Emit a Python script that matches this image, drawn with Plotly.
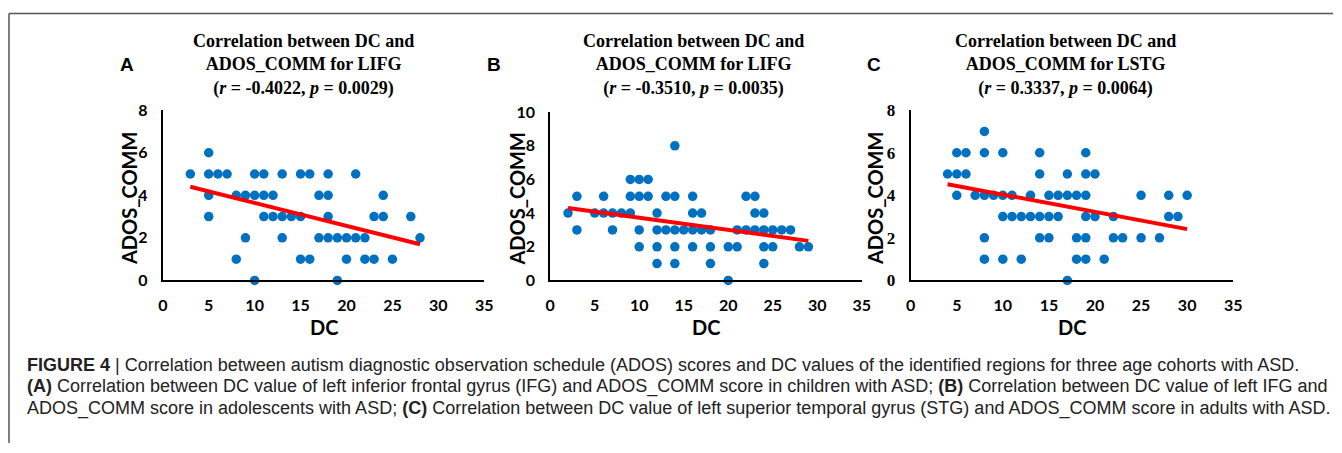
import plotly.graph_objects as go

# ---------------- data ----------------
a_dc = [3, 5, 5, 5, 5, 6, 7, 8, 8, 9, 9, 10, 10, 10, 11, 11, 11, 12, 12, 13, 13, 13, 14,
        15, 15, 15, 16, 16, 17, 17, 18, 18, 18, 18, 19, 19, 20, 20, 21, 21, 22, 22,
        23, 23, 24, 24, 25, 27, 28]
a_comm = [5, 6, 5, 4, 3, 5, 5, 4, 1, 4, 2, 5, 4, 0, 5, 4, 3, 4, 3, 5, 3, 2, 3,
          5, 3, 1, 5, 1, 4, 2, 5, 4, 3, 2, 2, 0, 2, 1, 5, 2, 2, 1,
          3, 1, 4, 3, 1, 3, 2]
a_fit_dc = [3, 28]
a_fit_comm = [4.40, 1.70]

b_dc = [2, 3, 3, 5, 6, 6, 7, 7, 8, 9, 9, 9, 10, 10, 10, 10, 11, 11, 12, 12, 12, 12,
        13, 13, 14, 14, 14, 14, 14, 15, 16, 16, 16, 16, 17, 17, 18, 18, 18, 20, 20,
        21, 21, 22, 22, 23, 23, 23, 24, 24, 24, 24, 25, 25, 26, 27, 28, 29]
b_comm = [4, 5, 3, 4, 5, 4, 4, 3, 4, 6, 5, 4, 6, 5, 3, 2, 6, 5, 4, 3, 2, 1,
          5, 3, 8, 5, 3, 2, 1, 3, 5, 4, 3, 2, 4, 3, 3, 2, 1, 2, 0,
          3, 2, 5, 3, 5, 4, 3, 4, 3, 2, 1, 3, 2, 3, 3, 2, 2]
b_fit_dc = [2, 29]
b_fit_comm = [4.31, 2.35]

c_dc = [4, 5, 5, 5, 6, 6, 7, 8, 8, 8, 8, 8, 9, 10, 10, 10, 10, 11, 11, 12, 12, 13, 13,
        14, 14, 14, 14, 15, 15, 15, 16, 16, 17, 17, 17, 18, 18, 18, 19, 19, 19, 19, 19, 19,
        20, 20, 21, 22, 22, 23, 25, 25, 27, 28, 28, 29, 30]
c_comm = [5, 6, 5, 4, 6, 5, 4, 7, 6, 4, 2, 1, 4, 6, 4, 3, 1, 4, 3, 3, 1, 4, 3,
          6, 5, 3, 2, 4, 3, 2, 4, 3, 5, 4, 0, 4, 2, 1, 6, 5, 4, 3, 2, 1,
          5, 3, 1, 3, 2, 2, 4, 2, 2, 4, 3, 3, 4]
c_fit_dc = [4, 30]
c_fit_comm = [4.52, 2.41]

panel_letters = ["A", "B", "C"]
title_regions = ["LIFG", "LIFG", "LSTG"]
r_values = ["-0.4022", "-0.3510", "0.3337"]
p_values = ["0.0029", "0.0035", "0.0064"]
y_max = [8, 10, 8]
x_ticks = [0, 5, 10, 15, 20, 25, 30, 35]

caption_lines = [
    "<b>FIGURE 4</b> | Correlation between autism diagnostic observation schedule (ADOS) scores and DC values of the identified regions for three age cohorts with ASD.",
    "<b>(A)</b> Correlation between DC value of left inferior frontal gyrus (IFG) and ADOS_COMM score in children with ASD; <b>(B)</b> Correlation between DC value of left IFG and",
    "ADOS_COMM score in adolescents with ASD; <b>(C)</b> Correlation between DC value of left superior temporal gyrus (STG) and ADOS_COMM score in adults with ASD.",
]

# ---------------- layout geometry (target pixels in the final picture) ----------------
W, H = 1342, 453
panels = [
    dict(x0=163, x1=485, y0=108, y1=279, title_x=304, letter_x=127, ytitle_x=129),
    dict(x0=551, x1=863, y0=110, y1=279, title_x=694, letter_x=495, ytitle_x=518),
    dict(x0=912, x1=1235, y0=108, y1=279, title_x=1067, letter_x=875, ytitle_x=877),
]

# the photographed page shows the figure slightly inset/scaled; compensate for it
OFF_X, SC_X = 5.0, 0.991
OFF_Y, SC_Y = 7.4, 0.96

def px(x):
    return min(max((x - OFF_X) / SC_X / W, 0), 1)

def py(y):
    return min(max(1 - (y - OFF_Y) / SC_Y / H, 0), 1)

BLUE = "#0070C0"
RED = "#FF0000"
SANS = "Lato"
SERIF = "Liberation Serif"

fig = go.Figure()
datasets = [(a_dc, a_comm, a_fit_dc, a_fit_comm),
            (b_dc, b_comm, b_fit_dc, b_fit_comm),
            (c_dc, c_comm, c_fit_dc, c_fit_comm)]
annotations = []

for i, ((xs, ys, fx, fy), g) in enumerate(zip(datasets, panels)):
    n = "" if i == 0 else str(i + 1)
    xa, ya = "x" + n, "y" + n
    fig.add_trace(go.Scatter(
        x=xs, y=ys, mode="markers", xaxis=xa, yaxis=ya,
        marker=dict(color=BLUE, size=9.5, line=dict(width=0)),
        cliponaxis=False, showlegend=False, hoverinfo="skip"))
    fig.add_trace(go.Scatter(
        x=fx, y=fy, mode="lines", xaxis=xa, yaxis=ya,
        line=dict(color=RED, width=4), cliponaxis=False, showlegend=False,
        hoverinfo="skip"))

    if i == 2:
        ytickfont = dict(family=SERIF, size=17, color="black", weight="bold")
    else:
        ytickfont = dict(family=SANS, size=16, color="black", weight="bold")
    fig.update_layout(**{
        ("xaxis" + n): dict(
            domain=[px(g["x0"]), px(g["x1"])], anchor=ya, range=[0, 35],
            tickvals=x_ticks, showgrid=False, zeroline=False, showline=True,
            linecolor="black", linewidth=2, ticks="", ticklabelstandoff=9,
            tickfont=dict(family=SANS, size=16, color="black", weight="bold")),
        ("yaxis" + n): dict(
            domain=[py(g["y1"]), py(g["y0"])], anchor=xa, range=[0, y_max[i]],
            dtick=2, showgrid=False, zeroline=False, showline=True,
            linecolor="black", linewidth=2, ticks="", ticklabelstandoff=10,
            tickfont=ytickfont),
    })

    cx = (g["x0"] + g["x1"]) / 2
    annotations.append(dict(
        x=px(g["title_x"]), y=py(63),
        xref="paper", yref="paper", xanchor="center", yanchor="middle",
        showarrow=False, align="center",
        text=("<b>Correlation between DC and<br>ADOS_COMM for %s<br>(<i>r</i> = %s, <i>p</i> = %s)</b>"
              % (title_regions[i], r_values[i], p_values[i])),
        font=dict(family=SERIF, size=18, color="black")))
    annotations.append(dict(
        x=px(g["letter_x"]), y=py(62), xref="paper", yref="paper",
        xanchor="center", yanchor="middle", showarrow=False,
        text="<b>%s</b>" % panel_letters[i],
        font=dict(family="Liberation Sans", size=19, color="black")))
    annotations.append(dict(
        x=px(g["ytitle_x"]), y=py((g["y0"] + g["y1"]) / 2 + 3), xref="paper", yref="paper",
        xanchor="center", yanchor="middle", showarrow=False, textangle=-90,
        text="<b>ADOS_COMM</b>",
        font=dict(family=SANS, size=20, color="black")))
    annotations.append(dict(
        x=px(cx), y=py(326), xref="paper", yref="paper",
        xanchor="center", yanchor="middle", showarrow=False,
        text="<b>DC</b>", font=dict(family=SANS, size=20, color="black")))

for k, line in enumerate(caption_lines):
    annotations.append(dict(
        x=px(25), y=py(364 + 22 * k), xref="paper", yref="paper",
        xanchor="left", yanchor="middle", showarrow=False, align="left",
        text=line, font=dict(family="Liberation Sans", size=18, color="#222222")))

shapes = [
    dict(type="line", xref="paper", yref="paper", x0=px(9), x1=1, y0=py(11), y1=py(11),
         line=dict(color="#555555", width=1.5)),
    dict(type="line", xref="paper", yref="paper", x0=px(9), x1=px(9), y0=py(11), y1=0,
         line=dict(color="#555555", width=1.5)),
]

fig.update_layout(
    width=W, height=H, margin=dict(l=0, r=0, t=0, b=0),
    paper_bgcolor="white", plot_bgcolor="white",
    annotations=annotations,
    shapes=shapes,
)

fig.write_html(
    "out.html",
    config={"displayModeBar": False},
    post_script="document.body.style.margin='0';document.body.style.overflow='hidden';",
)
